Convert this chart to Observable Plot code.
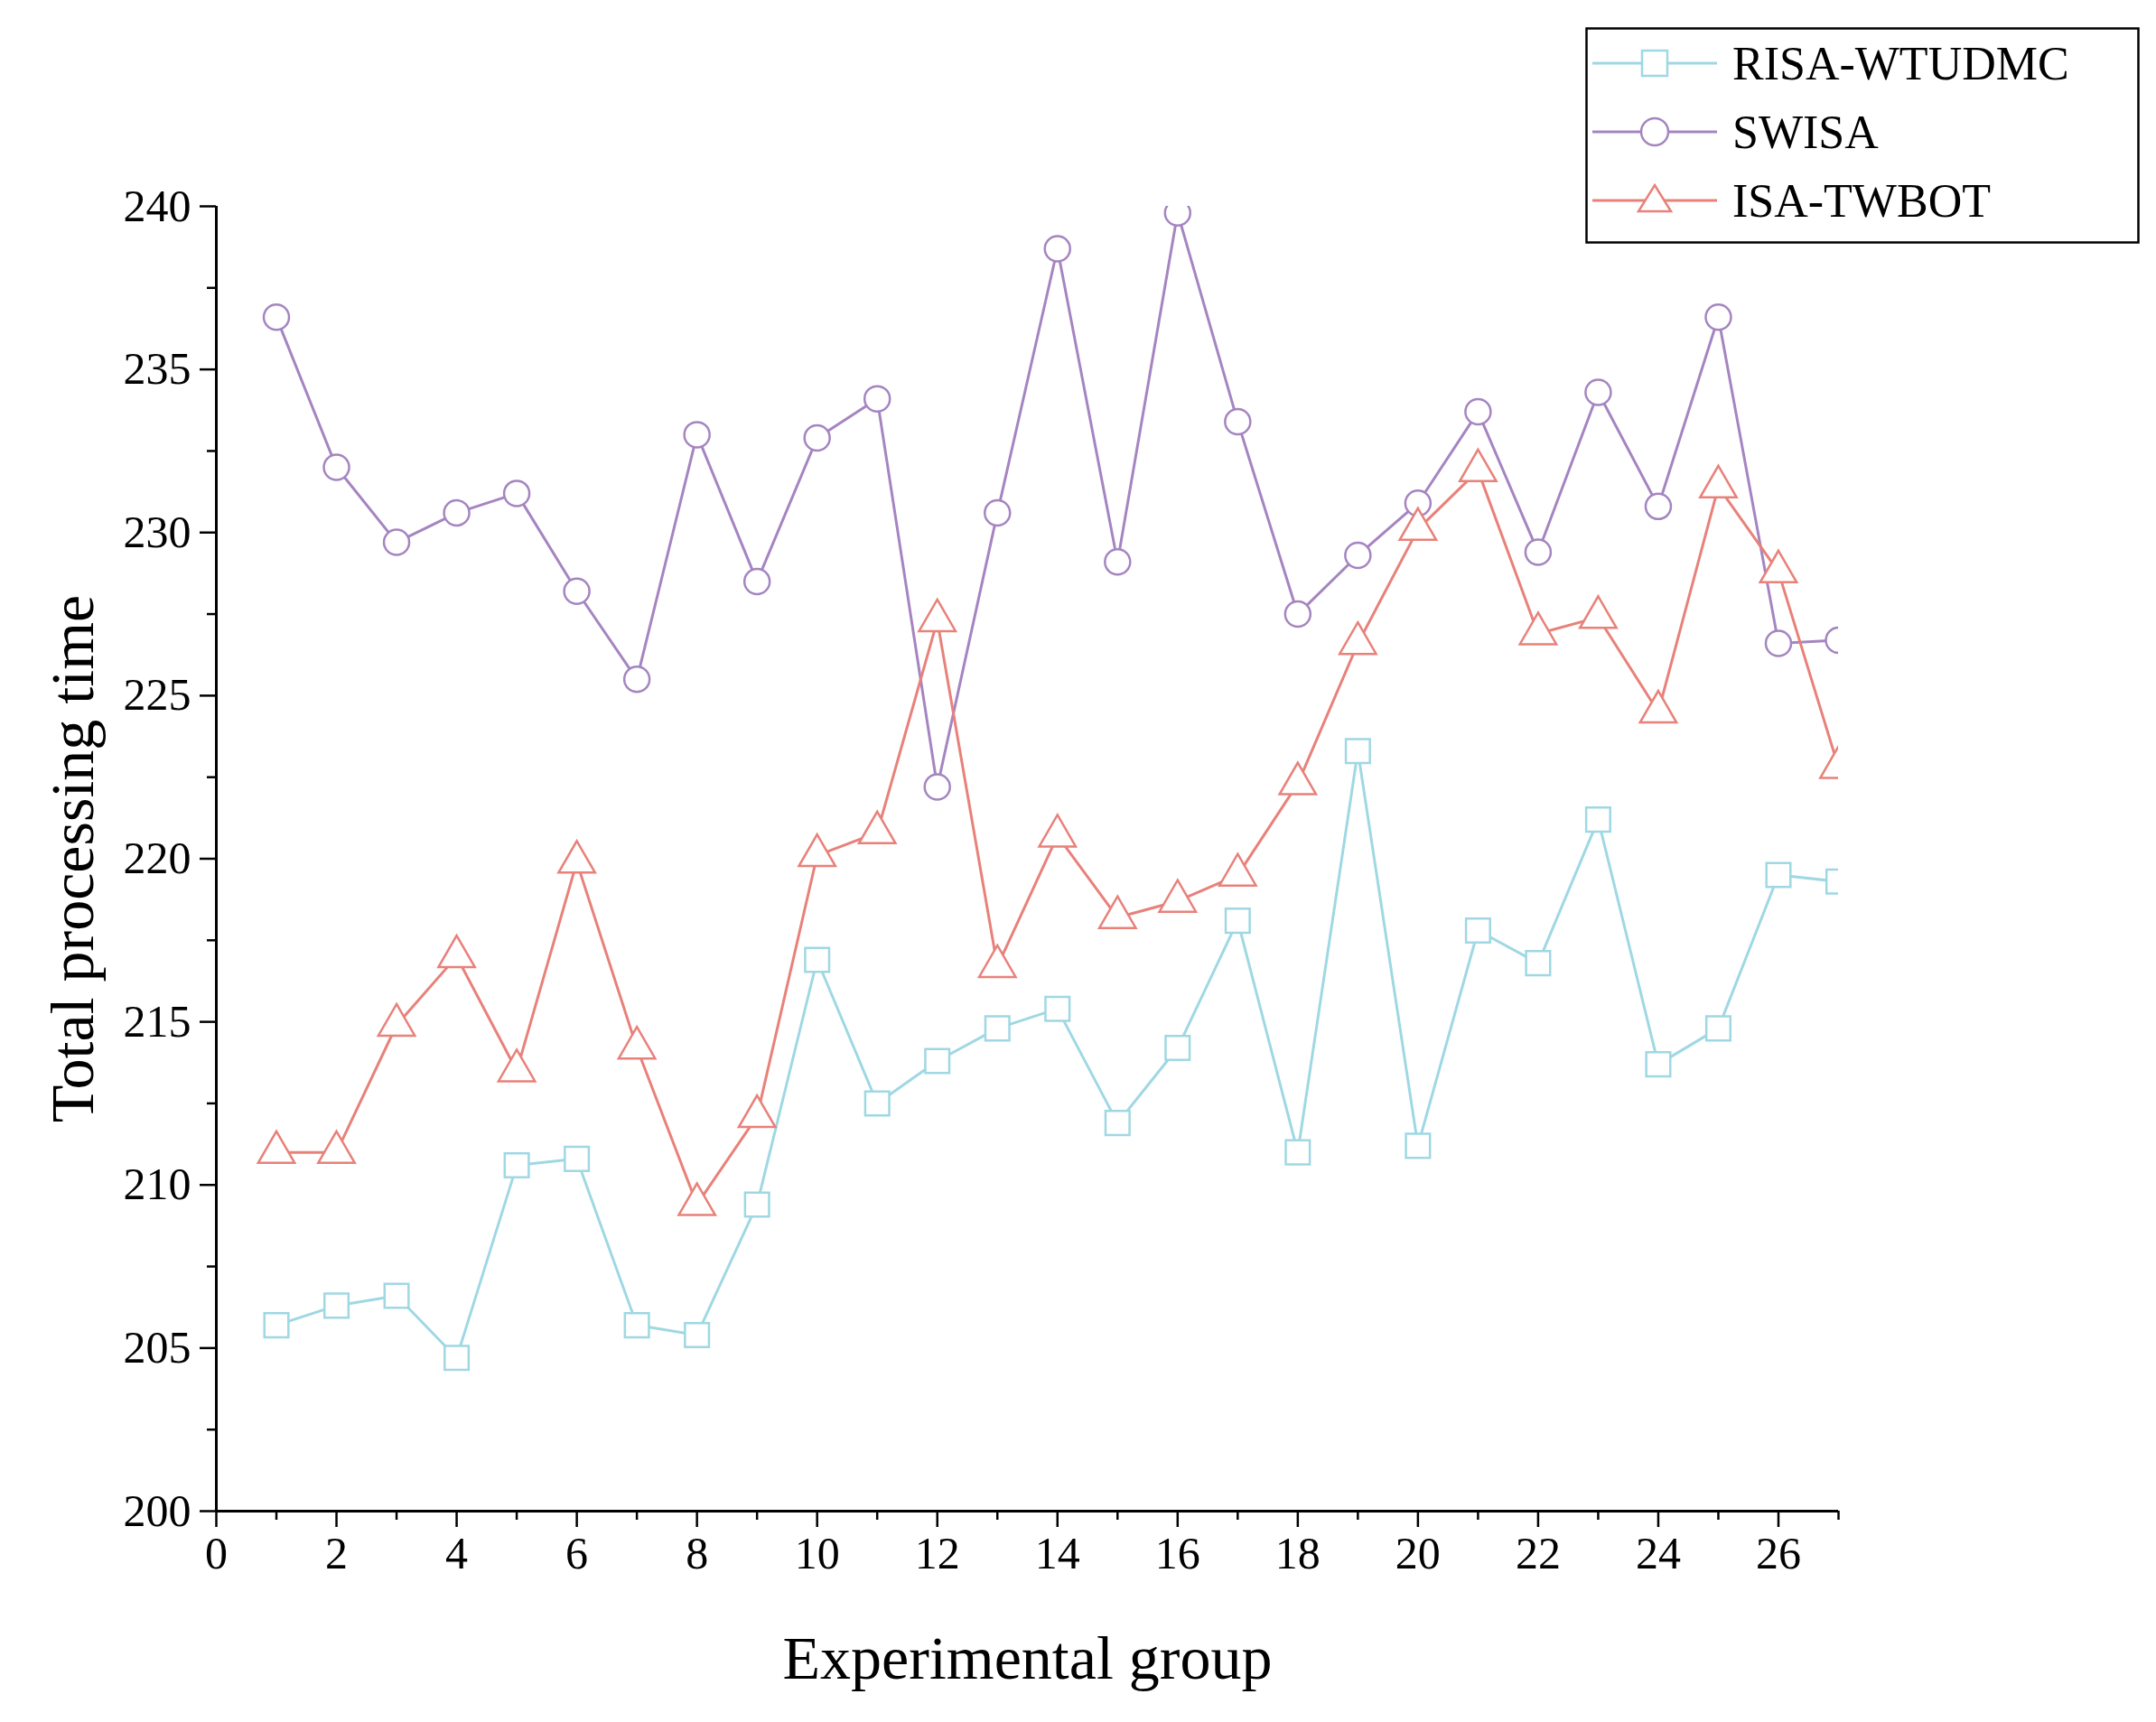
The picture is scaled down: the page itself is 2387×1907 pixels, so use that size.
<!DOCTYPE html>
<html><head><meta charset="utf-8">
<script src="https://cdn.jsdelivr.net/npm/d3@7"></script>
<script src="https://cdn.jsdelivr.net/npm/@observablehq/plot@0.6"></script>
<style>body{margin:0;background:#fff;} #wrap{position:relative;width:2387px;height:1907px;font-family:"Liberation Serif","Times New Roman",serif;}</style>
</head><body><div id="wrap"></div>
<script>
const groups = d3.range(1, 28);
const risa = [205.7,206.3,206.6,204.7,210.6,210.8,205.7,205.4,209.4,216.9,212.5,213.8,214.8,215.4,211.9,214.2,218.1,211.0,223.3,211.2,217.8,216.8,221.2,213.7,214.8,219.5,219.3];
const swisa = [236.6,232.0,229.7,230.6,231.2,228.2,225.5,233.0,228.5,232.9,234.1,222.2,230.6,238.7,229.1,239.8,233.4,227.5,229.3,230.9,233.7,229.4,234.3,230.8,236.6,226.6,226.7];
const isa = [211.0,211.0,214.9,217.0,213.5,219.9,214.2,209.4,212.1,220.1,220.8,227.3,216.7,220.7,218.2,218.7,219.5,222.3,226.6,230.1,231.9,226.9,227.4,224.5,231.4,228.8,222.8];
const seriesNames = ["RISA-WTUDMC","SWISA","ISA-TWBOT"];
const colors = ["#9fd8e3","#a585c1","#e8817a"];
const symbols = ["square","circle","triangle"];
const yTicks = d3.range(200, 241, 5);
const yMinor = d3.range(202.5, 240, 5);
const xTicks = d3.range(0, 27, 2);
const xMinor = d3.range(1, 28, 2);

const all = [risa, swisa, isa];
const data = all.flatMap((arr, s) => arr.map((v, i) => ({x: groups[i], y: v, s: seriesNames[s]})));

const marks = [];
all.forEach((arr, s) => {
  const d = data.filter(r => r.s === seriesNames[s]);
  marks.push(Plot.line(d, {x: "x", y: "y", stroke: colors[s], strokeWidth: 3, clip: true}));
  marks.push(Plot.dot(d, {x: "x", y: "y", stroke: colors[s], fill: "white", strokeWidth: 2.5, r: s===1 ? 14 : 15, symbol: symbols[s], clip: true}));
});

const chart = Plot.plot({
  width: 2387, height: 1907,
  marginLeft: 239, marginRight: 352, marginTop: 228, marginBottom: 234,
  style: {fontFamily: '"Liberation Serif","Times New Roman",serif', fontSize: "50px", color: "#000", background: "white"},
  x: {domain: [0, 27]},
  y: {domain: [200, 240]},
  marks: [
    Plot.axisY({ticks: yTicks, tickSize: 18, tickPadding: 10, tickFormat: d => d, fontSize: 50, strokeWidth: 2.5,
      label: "Total processing time", labelAnchor: "center", labelArrow: "none", labelOffset: 185, fontSize: 50}),
    Plot.axisY({ticks: yMinor, tickSize: 10, tickFormat: null, text: null, label: null, strokeWidth: 2.5}),
    Plot.axisX({ticks: xTicks, tickSize: 18, tickPadding: 10, tickFormat: d => d, fontSize: 50, strokeWidth: 2.5,
      label: "Experimental group", labelAnchor: "center", labelArrow: "none", labelOffset: 185}),
    Plot.axisX({ticks: xMinor, tickSize: 10, text: null, label: null, strokeWidth: 2.5}),
    Plot.ruleX([0], {strokeWidth: 3}),
    Plot.ruleY([200], {strokeWidth: 3}),
    ...marks
  ]
});
chart.querySelectorAll("g[aria-label='y-axis label'] text, g[aria-label='x-axis label'] text").forEach(t => t.style.fontSize = "68px");
const wrap = document.getElementById("wrap");
wrap.appendChild(chart);

// legend
const ns = "http://www.w3.org/2000/svg";
const leg = document.createElementNS(ns, "svg");
leg.setAttribute("width", 614); leg.setAttribute("height", 240);
leg.style.position = "absolute"; leg.style.left = "1755px"; leg.style.top = "30px";
leg.innerHTML = `<rect x="1.5" y="1.5" width="611" height="237" fill="white" stroke="black" stroke-width="2.5"/>` +
  seriesNames.map((n, i) => {
    const cy = 40 + i*76, c = colors[i];
    let sym = i===0 ? `<rect x="63" y="${cy-14}" width="28" height="28" fill="white" stroke="${c}" stroke-width="2.5"/>`
      : i===1 ? `<circle cx="77" cy="${cy}" r="15" fill="white" stroke="${c}" stroke-width="2.5"/>`
      : `<path d="M77,${cy-17} L95,${cy+12} L59,${cy+12} Z" fill="white" stroke="${c}" stroke-width="2.5"/>`;
    return `<line x1="8" x2="146" y1="${cy}" y2="${cy}" stroke="${c}" stroke-width="3"/>${sym}
      <text x="163" y="${cy}" dy="0.35em" font-size="52" font-family='"Liberation Serif",serif'>${n}</text>`;
  }).join("");
wrap.appendChild(leg);
</script></body></html>
